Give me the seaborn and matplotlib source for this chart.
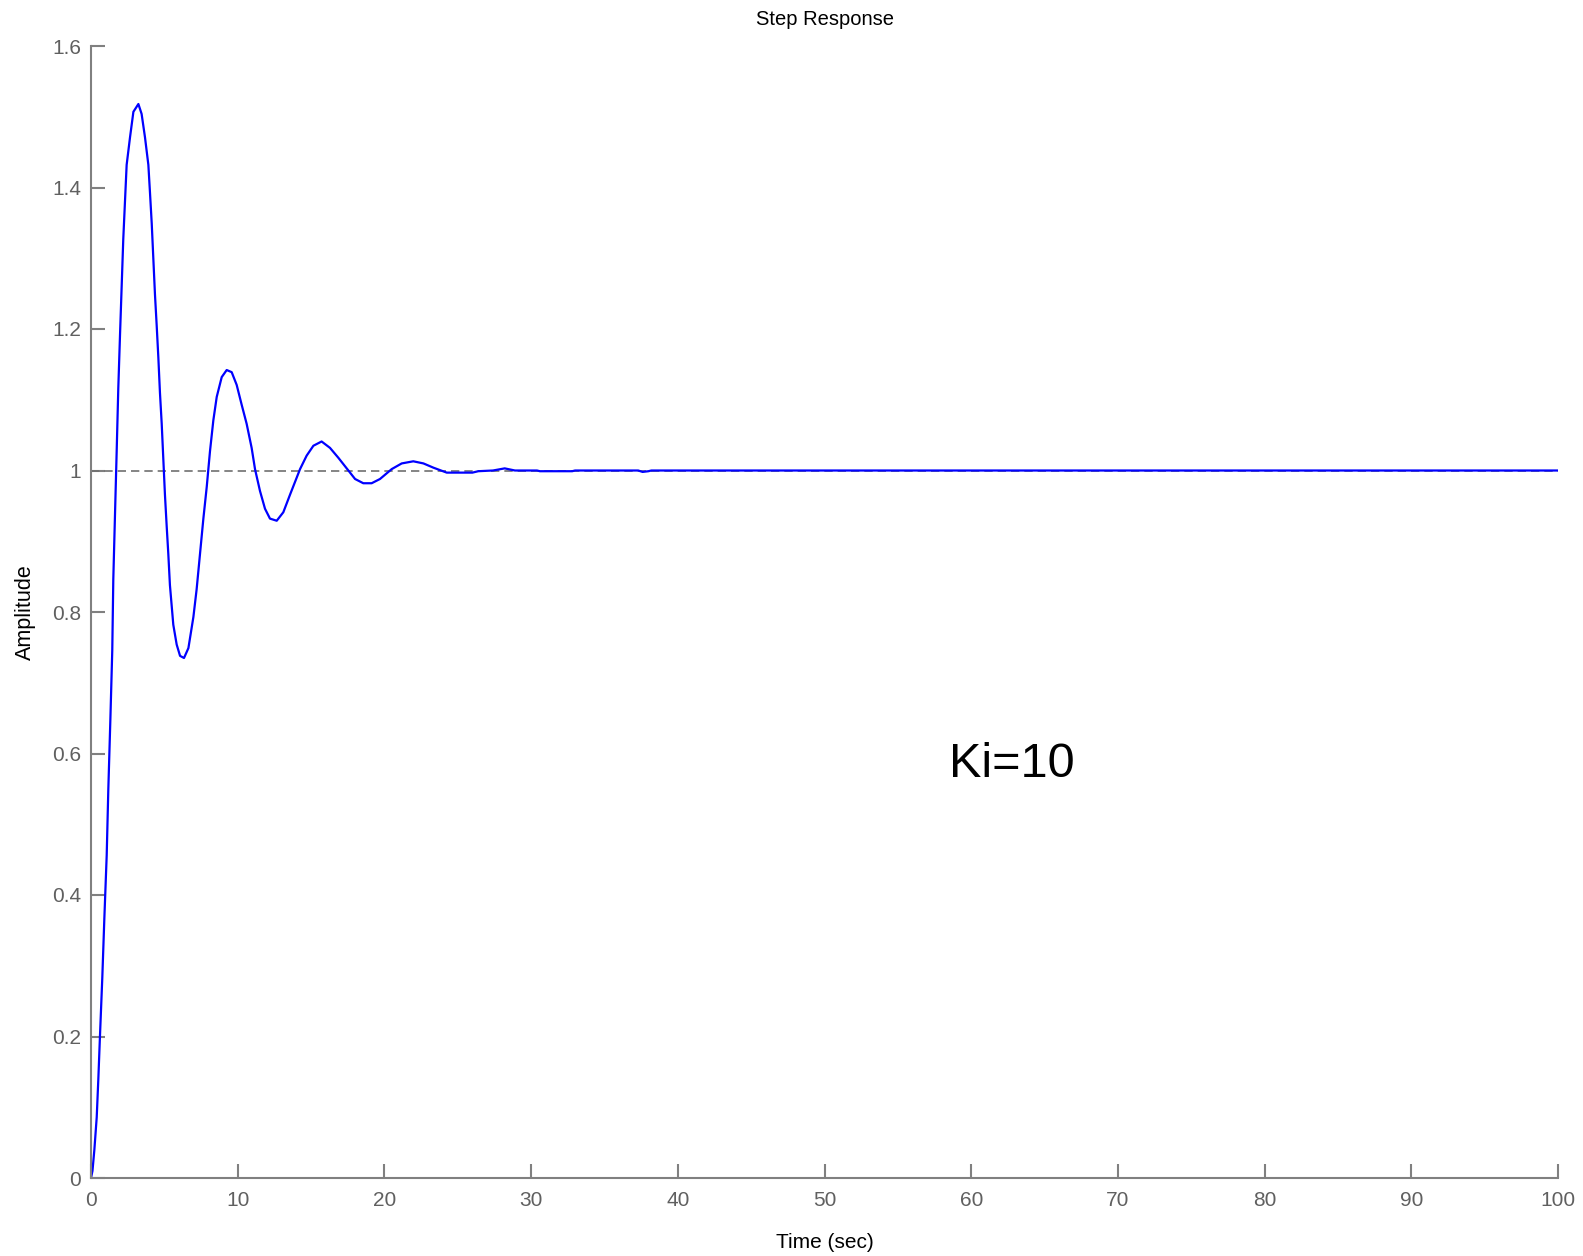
import matplotlib
matplotlib.use("Agg")
import matplotlib.pyplot as plt
import seaborn as sns
import pandas as pd

# Step response samples
time_sec = [0.0, 0.1, 0.23, 0.39, 0.5, 0.61, 0.77, 0.91, 1.07, 1.18, 1.32, 1.45,
            1.52, 1.64, 1.75, 1.86, 1.98, 2.09, 2.2, 2.32, 2.43, 2.66, 2.89, 3.23,
            3.45, 3.68, 3.91, 4.02, 4.14, 4.25, 4.36, 4.48, 4.59, 4.7, 4.82, 4.93,
            5.04, 5.16, 5.27, 5.38, 5.61, 5.84, 6.07, 6.34, 6.64, 6.98, 7.2, 7.43,
            7.66, 7.89, 8.11, 8.34, 8.57, 8.91, 9.25, 9.59, 9.93, 10.27, 10.61,
            10.95, 11.18, 11.52, 11.86, 12.2, 12.66, 13.11, 13.57, 14.25, 14.7,
            15.16, 15.72, 16.29, 16.86, 17.43, 18.0, 18.56, 19.13, 19.7, 20.5,
            21.18, 21.97, 22.66, 23.34, 24.25, 26.0, 26.4, 27.4, 28.2, 28.9, 30.4,
            30.6, 32.8, 33.0, 37.3, 37.6, 38.0, 38.2, 100.0]
amplitude = [0.0, 0.01, 0.04, 0.086, 0.14, 0.2, 0.283, 0.367, 0.456, 0.549, 0.648, 0.746,
             0.846, 0.941, 1.027, 1.116, 1.193, 1.26, 1.327, 1.382, 1.432, 1.471, 1.507, 1.518,
             1.504, 1.471, 1.432, 1.393, 1.349, 1.299, 1.249, 1.204, 1.16, 1.11, 1.066, 1.016,
             0.966, 0.921, 0.882, 0.838, 0.782, 0.754, 0.738, 0.735, 0.749, 0.793, 0.832, 0.882,
             0.932, 0.977, 1.027, 1.071, 1.104, 1.132, 1.142, 1.139, 1.121, 1.093, 1.066,
             1.032, 1.002, 0.971, 0.946, 0.932, 0.929, 0.941, 0.966, 1.002, 1.021,
             1.035, 1.041, 1.032, 1.018, 1.003, 0.988, 0.982, 0.982, 0.988, 1.002,
             1.01, 1.013, 1.01, 1.004, 0.997, 0.997, 0.999, 1.0, 1.003, 1.0, 1.0,
             0.999, 0.999, 1.0, 1.0, 0.998, 0.999, 1.0, 1.0]
steady_x = [0, 100]
steady_y = [1, 1]
x_ticks = [0, 10, 20, 30, 40, 50, 60, 70, 80, 90, 100]
y_ticks = [0, 0.2, 0.4, 0.6, 0.8, 1.0, 1.2, 1.4, 1.6]
y_tick_labels = ["0", "0.2", "0.4", "0.6", "0.8", "1", "1.2", "1.4", "1.6"]

sns.set_style("ticks")
plt.rcParams['font.family'] = ['Liberation Sans', 'DejaVu Sans']

fig = plt.figure(figsize=(15.83, 12.56), dpi=100)
ax = fig.add_axes([91 / 1583, 1 - 1178 / 1256, (1558 - 91) / 1583, (1178 - 46) / 1256])

df = pd.DataFrame({"t": time_sec, "y": amplitude})
ax.plot(steady_x, steady_y, color="#707070", linestyle=(0, (5, 3)), linewidth=1.2, zorder=1)
sns.lineplot(data=df, x="t", y="y", ax=ax, color="#0000ff", linewidth=1.6, zorder=2)

ax.set_xlim(0, 100)
ax.set_ylim(0, 1.6)
ax.set_xticks(x_ticks)
ax.set_xticklabels([str(v) for v in x_ticks])
ax.set_yticks(y_ticks)
ax.set_yticklabels(y_tick_labels)

gray = "#808080"
for side in ["top", "right"]:
    ax.spines[side].set_visible(False)
for side in ["left", "bottom"]:
    ax.spines[side].set_color(gray)
    ax.spines[side].set_linewidth(1.5)
ax.tick_params(axis="both", direction="in", length=10, width=1.5, color=gray,
               labelcolor="#606060", labelsize=15)
ax.tick_params(axis="x", pad=9)
ax.tick_params(axis="y", pad=7)

ax.set_title("Step Response", fontsize=14.5, color="black", pad=15)
ax.set_xlabel("Time (sec)", fontsize=15, color="black", labelpad=17)
ax.set_ylabel("Amplitude", fontsize=15.5, color="black", labelpad=12)

ax.text(62.8, 0.585, "Ki=10", fontsize=35, color="black", ha="center", va="center",
        family=["Liberation Sans", "DejaVu Sans"])

fig.savefig("out.png", dpi=100, facecolor="white")
